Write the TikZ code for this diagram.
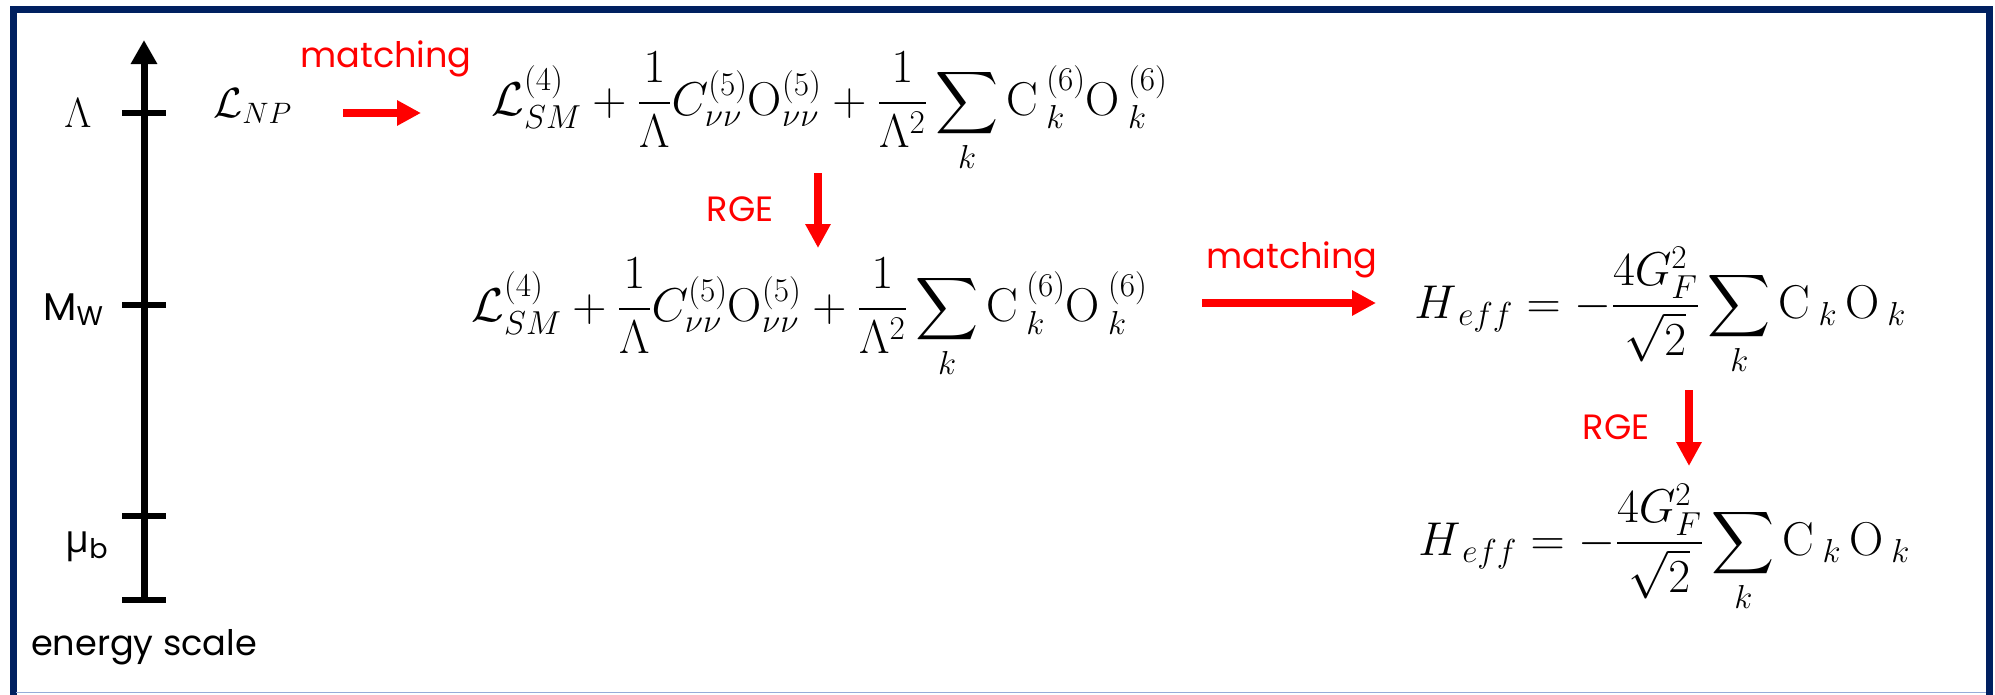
\documentclass[tikz,border=0pt]{standalone}
\usepackage{fix-cm}
\usepackage{amsmath}
\usepackage{fontspec}
\setsansfont{Poppins}
\newfontfamily\grkfont{Open Sans}
\usetikzlibrary{arrows.meta}
\definecolor{framenavy}{RGB}{0,32,96}
\definecolor{framelight}{RGB}{150,172,216}

\begin{document}
\begin{tikzpicture}[x=.2mm,y=-.2mm,
  tick/.style={line width=1.2mm},
  redarrow/.style={red,line width=1.6mm,-{Triangle[length=4.8mm,width=4.8mm]}},
  redlabel/.style={red,inner sep=0,font=\sffamily\fontsize{20}{24}\selectfont},
  eqn/.style={inner sep=0,anchor=base west,font=\fontsize{27}{32}\selectfont}]
\useasboundingbox (0,0) rectangle (1995,695);
% frame
\draw[framenavy,line width=1.4mm,line join=miter] (13,695) -- (13,9) -- (1989.5,9) -- (1989.5,695);
\draw[framelight,line width=.3mm] (16,692.5) -- (1986,692.5);
% energy axis
\draw[line width=1.4mm,-{Triangle[length=4.8mm,width=5mm]}] (144,600) -- (144,40);
\foreach \y in {113,305,516,600}
  \draw[tick] (122,\y) -- (166,\y);
\node[inner sep=0,font=\fontsize{24}{28}\selectfont] (lam) at (78,113) {$\Lambda$};
\node[inner sep=0,anchor=base west,font=\sffamily\fontsize{22}{26}\selectfont] (mw) at (43,320) {M\textsubscript{W}};
\node[inner sep=0,anchor=base west,font=\sffamily\fontsize{22}{26}\selectfont] (mub) at (65,552) {{\grkfont μ}\textsubscript{b}};
\node[inner sep=0,font=\sffamily\fontsize{20}{24}\selectfont] (escale) at (144,647) {energy scale};
% new physics
\node[inner sep=0,anchor=base west,font=\fontsize{24}{28}\selectfont] (lnp) at (213,117) {$\mathcal{L}_{NP}$};
\node[redlabel] (matchA) at (386,59) {matching};
\coordinate (mA1) at (343,113);
\coordinate (mA2) at (421,113);
\draw[redarrow] (mA1) -- (mA2);
\node[eqn] (eqA) at (491,115) {$\displaystyle \mathcal{L}_{SM}^{(4)}+\frac{1}{\Lambda}C_{\nu\nu}^{(5)}\mathrm{O}_{\nu\nu}^{(5)}+\frac{1}{\Lambda^2}\sum_k \mathrm{C}\,{}_k^{(6)}\mathrm{O}\,{}_k^{(6)}$};
% running to M_W
\node[redlabel] (rgeA) at (740,209) {RGE};
\coordinate (rA1) at (818,173);
\coordinate (rA2) at (818,248);
\draw[redarrow] (rA1) -- (rA2);
\node[eqn] (eqB) at (471,321) {$\displaystyle \mathcal{L}_{SM}^{(4)}+\frac{1}{\Lambda}C_{\nu\nu}^{(5)}\mathrm{O}_{\nu\nu}^{(5)}+\frac{1}{\Lambda^2}\sum_k \mathrm{C}\,{}_k^{(6)}\mathrm{O}\,{}_k^{(6)}$};
\node[redlabel] (matchB) at (1292,260) {matching};
\coordinate (mB1) at (1202,303);
\coordinate (mB2) at (1376,303);
\draw[redarrow] (mB1) -- (mB2);
\node[eqn] (heffA) at (1414,318) {$\displaystyle H_{\,eff}=-\frac{4G_F^2}{\sqrt{2}}\sum_k \mathrm{C}\,{}_k\,\mathrm{O}\,{}_k$};
% running to mu_b
\node[redlabel] (rgeB) at (1616,427) {RGE};
\coordinate (rB1) at (1689,390);
\coordinate (rB2) at (1689,466);
\draw[redarrow] (rB1) -- (rB2);
\node[eqn] (heffB) at (1418,555) {$\displaystyle H_{\,eff}=-\frac{4G_F^2}{\sqrt{2}}\sum_k \mathrm{C}\,{}_k\,\mathrm{O}\,{}_k$};
\end{tikzpicture}
\end{document}
